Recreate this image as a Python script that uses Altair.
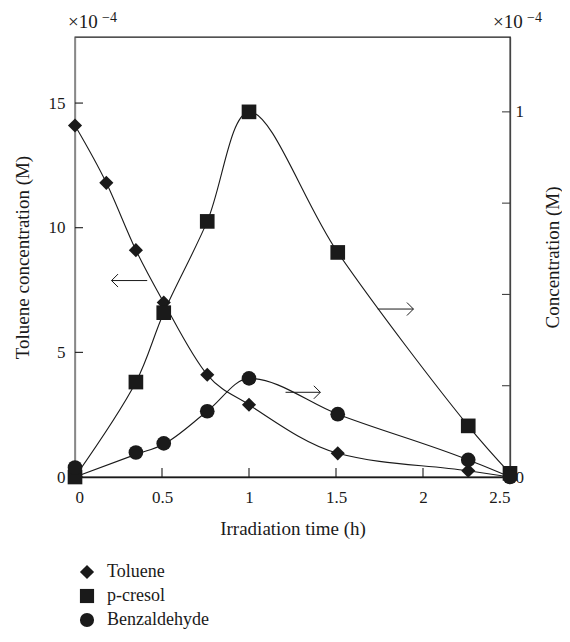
import altair as alt
import pandas as pd

# ---------------- data ----------------
compounds = ["Toluene", "p-cresol", "Benzaldehyde"]
shapes = ["diamond", "square", "circle"]

tol_t = [0, 0.18, 0.35, 0.51, 0.76, 1.0, 1.51, 2.26, 2.5]
tol_v = [14.1, 11.8, 9.1, 7.0, 4.1, 2.9, 0.95, 0.25, 0.0]

cre_t = [0, 0.35, 0.51, 0.76, 1.0, 1.51, 2.26, 2.5]
cre_v = [0.0, 0.26, 0.45, 0.70, 1.0, 0.615, 0.14, 0.01]

ben_t = [0, 0.35, 0.51, 0.76, 1.0, 1.51, 2.26, 2.5]
ben_v = [0.026, 0.067, 0.092, 0.18, 0.27, 0.172, 0.047, 0.0]
# fitted curve of benzaldehyde starts at the origin
ben_fit_v = [0.0, 0.062, 0.09, 0.18, 0.27, 0.172, 0.047, 0.0]

x_ticks = [0, 0.5, 1, 1.5, 2, 2.5]
left_ticks = [0, 5, 10, 15]
right_ticks = [0, 0.25, 0.5, 0.75, 1]
right_labels = [0, 1]

# annotation arrows (data coordinates)
left_arrow = {"t": [0.21], "t2": [0.415], "v": [7.88]}
right_arrows = {"t": [1.21, 1.74], "t2": [1.41, 1.945], "v": [0.232, 0.46]}

INK = "#1a1a1a"
FONT = "Liberation Serif"
W, H = 435, 440
X_DOM = [0, 2.5]
YL_DOM = [0, 17.65]
YR_DOM = [0, 1.205]

tol_df = pd.DataFrame({"t": tol_t, "v": tol_v, "compound": "Toluene"})
cre_df = pd.DataFrame({"t": cre_t, "v": cre_v, "compound": "p-cresol"})
ben_df = pd.DataFrame({"t": ben_t, "v": ben_v, "compound": "Benzaldehyde"})
ben_fit_df = pd.DataFrame({"t": ben_t, "v": ben_fit_v, "compound": "Benzaldehyde"})
right_pts = pd.concat([cre_df, ben_df])

x_axis = alt.Axis(values=x_ticks, format="~g", title="Irradiation time (h)",
                  labelPadding=12, titlePadding=14, titleFontSize=19, domainColor=INK)


def X(field="t"):
    return alt.X(f"{field}:Q", scale=alt.Scale(domain=X_DOM, nice=False, zero=False),
                 axis=x_axis)


def YL(field="v"):
    return alt.Y(f"{field}:Q", scale=alt.Scale(domain=YL_DOM, nice=False),
                 axis=alt.Axis(values=left_ticks, title="Toluene concentration (M)",
                               labelPadding=10, titlePadding=16, orient="left",
                               titleFontSize=19))


def YR(field="v"):
    return alt.Y(f"{field}:Q", scale=alt.Scale(domain=YR_DOM, nice=False),
                 axis=alt.Axis(values=right_labels, format="~g", title="Concentration (M)",
                               labelPadding=5, titlePadding=39, orient="right",
                               titleAngle=270, titleFontSize=19, domainColor="#444"))


shape_enc = alt.Shape("compound:N",
                      scale=alt.Scale(domain=compounds, range=shapes),
                      legend=alt.Legend(title=None, orient="none", legendX=3, legendY=526,
                                        symbolSize=200, symbolFillColor=INK,
                                        symbolStrokeWidth=0, labelFont=FONT,
                                        labelFontSize=18, labelColor=INK,
                                        labelOffset=11, rowPadding=6, padding=0))

# ---------------- left (toluene) ----------------
tol_line = alt.Chart(tol_df).mark_line(interpolate="monotone", color=INK, strokeWidth=1.1).encode(
    x=X(), y=YL())
tol_points = alt.Chart(tol_df).mark_point(filled=True, color=INK, size=200, opacity=1).encode(
    x=X(), y=YL(), shape=shape_enc)

lt_df = pd.DataFrame({"v": left_ticks})
left_tick_marks = alt.Chart(lt_df).mark_rule(color=INK, strokeWidth=1.1).encode(
    y=YL(), x=alt.value(0), x2=alt.value(8))

xt_df = pd.DataFrame({"t": x_ticks})
x_tick_marks = alt.Chart(xt_df).mark_rule(color=INK, strokeWidth=1.1).encode(
    x=X(), y=alt.value(H), y2=alt.value(H - 9))

la_df = pd.DataFrame(left_arrow)
la_rule = alt.Chart(la_df).mark_rule(color=INK, strokeWidth=1).encode(
    x=X(), x2="t2:Q", y=YL())
la_head = alt.Chart(la_df).mark_point(shape="M1,-1L0,0L1,1", filled=False, color=INK,
                                      size=169, strokeWidth=1, opacity=1).encode(
    x=X(), y=YL())

exp_df = pd.DataFrame({"a": [0]})
left_x10 = alt.Chart(exp_df).mark_text(text="×10", font=FONT, fontSize=19, color=INK,
                                       align="left", baseline="alphabetic").encode(
    x=alt.value(-7), y=alt.value(-9))
left_exp = alt.Chart(exp_df).mark_text(text="−4", font=FONT, fontSize=14, color=INK,
                                       align="left", baseline="alphabetic").encode(
    x=alt.value(27), y=alt.value(-15))

left_group = alt.layer(tol_line, left_tick_marks, x_tick_marks, la_rule, la_head,
                       left_x10, left_exp, tol_points)

# ---------------- right (p-cresol, benzaldehyde) ----------------
cre_line = alt.Chart(cre_df).mark_line(interpolate="catmull-rom", color=INK, strokeWidth=1.1).encode(
    x=X(), y=YR())
ben_line = alt.Chart(ben_fit_df).mark_line(interpolate="monotone", color=INK, strokeWidth=1.1).encode(
    x=X(), y=YR())
r_points = alt.Chart(right_pts).mark_point(filled=True, color=INK, size=215, opacity=1).encode(
    x=X(), y=YR(), shape=shape_enc)

rt_df = pd.DataFrame({"v": right_ticks})
right_tick_marks = alt.Chart(rt_df).mark_rule(color="#444", strokeWidth=1.1).encode(
    y=YR(), x=alt.value(W - 8), x2=alt.value(W))

ra_df = pd.DataFrame(right_arrows)
ra_rule = alt.Chart(ra_df).mark_rule(color=INK, strokeWidth=1).encode(
    x=X(), x2="t2:Q", y=YR())
ra_head = alt.Chart(ra_df).mark_point(shape="M-1,-1L0,0L-1,1", filled=False, color=INK,
                                      size=169, strokeWidth=1, opacity=1).encode(
    x=X("t2"), y=YR())

right_x10 = alt.Chart(exp_df).mark_text(text="×10", font=FONT, fontSize=19, color=INK,
                                        align="left", baseline="alphabetic").encode(
    x=alt.value(418), y=alt.value(-9))
right_exp = alt.Chart(exp_df).mark_text(text="−4", font=FONT, fontSize=14, color=INK,
                                        align="left", baseline="alphabetic").encode(
    x=alt.value(452), y=alt.value(-15))

right_group = alt.layer(cre_line, ben_line, right_tick_marks, ra_rule, ra_head,
                        right_x10, right_exp, r_points)

chart = alt.layer(left_group, right_group).resolve_scale(y="independent").properties(
    width=W, height=H,
    autosize=alt.AutoSizeParams(type="none"),
    padding={"left": 67, "top": 29, "right": 52, "bottom": 152},
    background="white",
).configure_view(stroke=INK, strokeWidth=1.3).configure_axis(
    grid=False, ticks=False, tickSize=0, domainWidth=1.3,
    labelFont=FONT, labelFontSize=17, labelColor=INK,
    titleFont=FONT, titleFontSize=19, titleFontWeight="normal", titleColor=INK,
)

chart.save("out.html", embed_options={"renderer": "svg", "actions": False})
